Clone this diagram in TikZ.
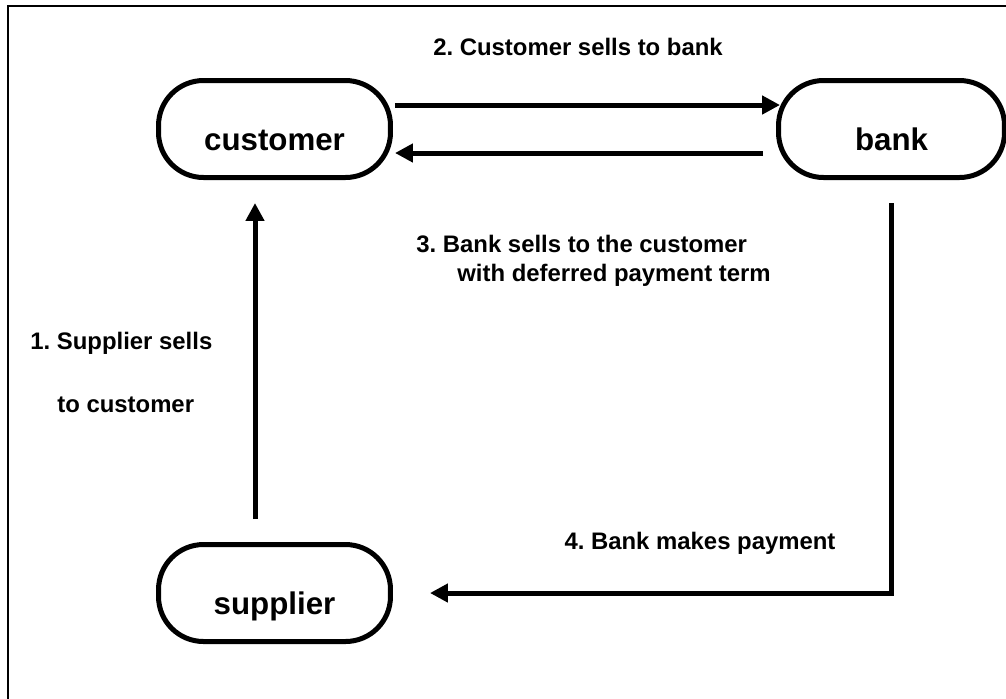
\documentclass[tikz,border=0pt]{standalone}
\usepackage{fontspec}
\setmainfont{Liberation Sans}
\usetikzlibrary{arrows.meta}
\frenchspacing

\tikzset{
  party/.style={draw, line width=0.1cm, rounded corners=0.9cm, minimum height=1.94cm,
    text height=0.84cm, text depth=0cm, font=\fontsize{17.8}{20}\selectfont\bfseries},
  flow/.style={line width=0.1cm, -{Triangle[length=0.36cm,width=0.36cm]}},
  lbl/.style={font=\fontsize{13.6}{16}\selectfont\bfseries, inner sep=0pt}
}

\begin{document}
\begin{tikzpicture}[x=0.02cm, y=-0.02cm]
\clip (0,0) rectangle (1006,698);
\draw[line width=0.04cm] (1012,6) -- (8,6) -- (8,704);

\node[party, minimum width=4.64cm] (customer) at (274.5,129) {customer};
\node[party, minimum width=4.52cm] (bank) at (891.5,129) {bank};
\node[party, minimum width=4.64cm] (supplier) at (274.5,593) {supplier};

\draw[flow] ([shift={(2,-24)}]customer.east) -- ([shift={(4,-24)}]bank.west);
\draw[flow] ([shift={(-13,24)}]bank.west) -- ([shift={(2,24)}]customer.east);
\draw[flow] ([shift={(-19.5,-23)}]supplier.north) -- ([shift={(-19.5,23)}]customer.south);
\draw[flow] ([shift={(-0.5,23)}]bank.south) |- ([shift={(37,0)}]supplier.east);

\node[lbl] (lblSell) at (578,47) {2. Customer sells to bank};
\node[lbl, anchor=west] (lblBackA) at (416,244) {3. Bank sells to the customer};
\node[lbl, anchor=west] (lblBackB) at (457,275) {with deferred payment term};
\node[lbl, anchor=west] (lblSupA) at (30,343) {1. Supplier sells};
\node[lbl, anchor=west] (lblSupB) at (57,405) {to customer};
\node[lbl] (lblPay) at (700,543) {4. Bank makes payment};
\end{tikzpicture}
\end{document}
